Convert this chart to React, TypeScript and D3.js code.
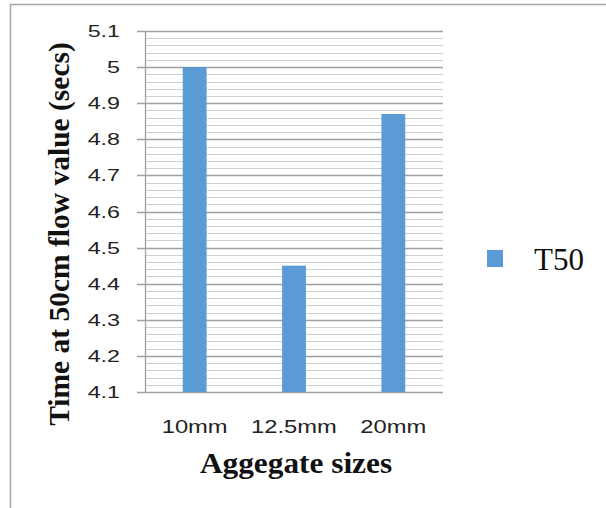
import React, { useEffect, useRef } from 'react';
import * as d3 from 'd3';

const categories = ['10mm', '12.5mm', '20mm'];
const t50Values = [5.0, 4.45, 4.87];
const yTicks = [4.1, 4.2, 4.3, 4.4, 4.5, 4.6, 4.7, 4.8, 4.9, 5.0, 5.1];
const seriesName = 'T50';

const App = () => {
  const svgRef = useRef<SVGSVGElement>(null);

  useEffect(() => {
    const svg = d3.select(svgRef.current);
    svg.selectAll('*').remove();

    const plot = { left: 145, right: 443, top: 31, bottom: 392 };
    const sansFont = '"Liberation Sans", Arial, sans-serif';
    const serifFont = '"Liberation Serif", "Times New Roman", serif';

    // outer frame
    svg.append('rect')
      .attr('x', 10.5).attr('y', 4.5)
      .attr('width', 620).attr('height', 520)
      .attr('fill', 'none')
      .attr('stroke', '#a6a6a6')
      .attr('stroke-width', 1.5);

    const x = d3.scaleBand()
      .domain(categories)
      .range([plot.left, plot.right])
      .paddingInner(0.76)
      .paddingOuter(0.38);

    const y = d3.scaleLinear()
      .domain([4.1, 5.1])
      .range([plot.bottom, plot.top]);

    // minor grid every 0.02
    const minor = d3.range(0, 51).map(i => 4.1 + i * 0.02);
    svg.append('g')
      .selectAll('line')
      .data(minor)
      .enter()
      .append('line')
      .attr('x1', plot.left).attr('x2', plot.right)
      .attr('y1', d => Math.round(y(d)) + 0.5)
      .attr('y2', d => Math.round(y(d)) + 0.5)
      .attr('stroke', '#cfcfcf')
      .attr('stroke-width', 1.2);

    // major grid + tick marks
    svg.append('g')
      .selectAll('line')
      .data(yTicks)
      .enter()
      .append('line')
      .attr('x1', plot.left - 8).attr('x2', plot.right)
      .attr('y1', d => Math.round(y(d)) + 0.5)
      .attr('y2', d => Math.round(y(d)) + 0.5)
      .attr('stroke', '#a0a0a0')
      .attr('stroke-width', 1.3);

    // bars
    svg.append('g')
      .selectAll('rect')
      .data(t50Values)
      .enter()
      .append('rect')
      .attr('x', (d, i) => x(categories[i])!)
      .attr('width', x.bandwidth())
      .attr('y', d => y(d))
      .attr('height', d => plot.bottom - y(d))
      .attr('fill', '#5b9bd5');

    // y axis line
    svg.append('line')
      .attr('x1', plot.left + 0.5).attr('x2', plot.left + 0.5)
      .attr('y1', plot.top).attr('y2', plot.bottom)
      .attr('stroke', '#a0a0a0')
      .attr('stroke-width', 1.3);

    // y tick labels (wide looking text, stretched horizontally)
    svg.append('g')
      .selectAll('text')
      .data(yTicks)
      .enter()
      .append('text')
      .attr('transform', d => `translate(120,${y(d) + 6}) scale(1.37,1)`)
      .attr('text-anchor', 'end')
      .style('font-family', sansFont)
      .style('font-size', '17px')
      .attr('fill', '#222')
      .text(d => String(+d.toFixed(1)));

    // x labels
    svg.append('g')
      .selectAll('text')
      .data(categories)
      .enter()
      .append('text')
      .attr('transform', d => `translate(${x(d)! + x.bandwidth() / 2},433) scale(1.32,1)`)
      .attr('text-anchor', 'middle')
      .style('font-family', sansFont)
      .style('font-size', '18px')
      .attr('fill', '#222')
      .text(d => d);

    // axis titles
    svg.append('text')
      .attr('transform', 'translate(296,473) scale(1.08,1)')
      .attr('text-anchor', 'middle')
      .style('font-family', serifFont)
      .style('font-weight', 'bold')
      .style('font-size', '29px')
      .attr('fill', '#111')
      .text('Aggegate sizes');

    svg.append('text')
      .attr('transform', 'translate(69,234) rotate(-90)')
      .attr('text-anchor', 'middle')
      .style('font-family', serifFont)
      .style('font-weight', 'bold')
      .style('font-size', '29.5px')
      .attr('fill', '#111')
      .text('Time at 50cm flow value (secs)');

    // legend
    const legend = svg.append('g').attr('transform', 'translate(487,250)');
    legend.append('rect')
      .attr('width', 16).attr('height', 17)
      .attr('fill', '#5b9bd5');
    legend.append('text')
      .attr('x', 47)
      .attr('y', 20)
      .style('font-family', serifFont)
      .style('font-size', '31px')
      .attr('fill', '#111')
      .text(seriesName);
  }, []);

  return (
    <svg
      ref={svgRef}
      width={606}
      height={508}
      style={{ position: 'absolute', left: 0, top: 0, background: '#fff' }}
    />
  );
};

export default App;
